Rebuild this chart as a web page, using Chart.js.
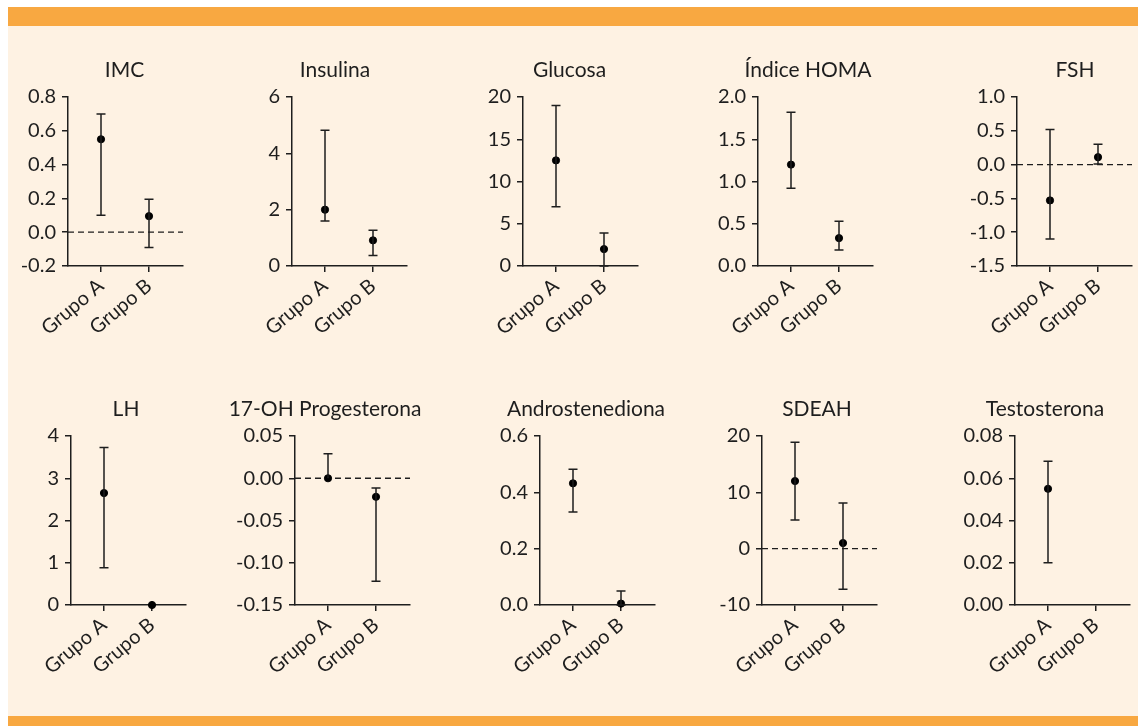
<!DOCTYPE html>
<html>
<head>
<meta charset="utf-8">
<script src="https://cdn.jsdelivr.net/npm/chart.js@4.4.0/dist/chart.umd.min.js"></script>
<style>
  body { margin: 0; background: #ffffff; width: 1138px; height: 726px; overflow: hidden; position: relative; }
  #band-top { position: absolute; left: 8px; top: 7px; width: 1130px; height: 19px; background: #f8a841; }
  #panel { position: absolute; left: 8px; top: 26px; width: 1130px; height: 690px; background: #fef2e3; }
  #band-bottom { position: absolute; left: 8px; top: 716px; width: 1130px; height: 10px; background: #f8a841; }
  canvas { position: absolute; }
</style>
</head>
<body>
<div id="band-top"></div>
<div id="panel"></div>
<div id="band-bottom"></div>

<script>
// datos
const panels = ['IMC', 'Insulina', 'Glucosa', 'Índice HOMA', 'FSH',
                'LH', '17-OH Progesterona', 'Androstenediona', 'SDEAH', 'Testosterona'];
const groups = ['Grupo A', 'Grupo B'];

const meanA = [0.55, 2.0, 12.5, 1.2, -0.53, 2.65, 0.0, 0.432, 12.0, 0.055];
const lowA  = [0.10, 1.6, 7.0, 0.92, -1.10, 0.88, null, 0.33, 5.1, 0.02];
const highA = [0.70, 4.82, 19.0, 1.82, 0.52, 3.73, 0.029, 0.482, 18.9, 0.068];

const meanB = [0.095, 0.91, 2.0, 0.33, 0.11, 0.0, -0.022, 0.005, 1.0, null];
const lowB  = [-0.09, 0.37, 0.0, 0.19, 0.01, null, -0.122, 0.0, -7.2, null];
const highB = [0.195, 1.27, 3.9, 0.53, 0.30, null, -0.0115, 0.05, 8.1, null];

const yMin = [-0.2, 0, 0, 0, -1.5, 0, -0.15, 0, -10, 0];
const yMax = [0.8, 6, 20, 2, 1, 4, 0.05, 0.6, 20, 0.08];
const yStep = [0.2, 2, 5, 0.5, 0.5, 1, 0.05, 0.2, 10, 0.02];
const yDecimals = [1, 0, 0, 1, 1, 0, 2, 1, 0, 2];

// disposición
const axisX = [68, 292, 523, 758, 1017, 71, 295, 540, 762, 1015];
const titleX = [124.5, 335, 569.5, 808, 1075, 126, 325, 586, 817, 1045];
const rowTop = [97, 436];
const titleY = [70, 409];
const plotW = 115, plotH = 169;
const padL = 66, padT = 56, padB = 90;

const ink = '#1e1e1e';
const fontFamily = 'Lato, "Open Sans", sans-serif';

const errorBars = {
  id: 'errorBars',
  afterDatasetsDraw(chart, args, opts) {
    const c = chart.ctx, xs = chart.scales.x, ys = chart.scales.y;
    c.save();
    c.strokeStyle = ink;
    c.lineWidth = 1.5;
    opts.bars.forEach((b, i) => {
      if (b.mean === null) return;
      const px = xs.getPixelForValue(i);
      const top = ys.getPixelForValue(b.high !== null ? b.high : b.mean);
      const bot = ys.getPixelForValue(b.low !== null ? b.low : b.mean);
      c.beginPath();
      c.moveTo(px, top);
      c.lineTo(px, bot);
      if (b.high !== null) { c.moveTo(px - 4.5, top); c.lineTo(px + 4.5, top); }
      if (b.low !== null) { c.moveTo(px - 4.5, bot); c.lineTo(px + 4.5, bot); }
      c.stroke();
    });
    c.restore();
  }
};

const zeroLine = {
  id: 'zeroLine',
  beforeDatasetsDraw(chart) {
    const ys = chart.scales.y, a = chart.chartArea;
    if (!(ys.min < 0 && ys.max > 0)) return;
    const y = ys.getPixelForValue(0);
    const c = chart.ctx;
    c.save();
    c.strokeStyle = ink;
    c.lineWidth = 1.3;
    c.setLineDash([6, 4]);
    c.beginPath();
    c.moveTo(a.left, y);
    c.lineTo(a.right, y);
    c.stroke();
    c.restore();
  }
};

const panelTitle = {
  id: 'panelTitle',
  afterDraw(chart, args, opts) {
    const c = chart.ctx;
    c.save();
    c.fillStyle = ink;
    c.font = '21px ' + fontFamily;
    c.textAlign = 'center';
    c.textBaseline = 'middle';
    c.fillText(opts.text, opts.x, opts.y);
    c.restore();
  }
};

panels.forEach((name, i) => {
  const row = i < 5 ? 0 : 1;
  const padR = i === 4 ? 6 : 60;
  const cv = document.createElement('canvas');
  const left = axisX[i] - padL, top = rowTop[row] - padT;
  const w = padL + plotW + padR, h = padT + plotH + padB;
  cv.style.left = left + 'px';
  cv.style.top = top + 'px';
  cv.style.width = w + 'px';
  cv.style.height = h + 'px';
  cv.width = w;
  cv.height = h;
  document.body.appendChild(cv);

  const pts = [];
  if (meanA[i] !== null) pts.push({ x: 0, y: meanA[i] });
  if (meanB[i] !== null) pts.push({ x: 1, y: meanB[i] });

  new Chart(cv, {
    type: 'scatter',
    data: {
      datasets: [{
        data: pts,
        backgroundColor: '#000000',
        borderColor: '#000000',
        pointRadius: 3.6,
        pointHoverRadius: 3.6,
        clip: false
      }]
    },
    options: {
      responsive: false,
      animation: false,
      events: [],
      layout: { padding: { left: 0, top: padT, right: padR, bottom: 0 } },
      plugins: {
        legend: { display: false },
        tooltip: { enabled: false },
        errorBars: {
          bars: [
            { mean: meanA[i], low: lowA[i], high: highA[i] },
            { mean: meanB[i], low: lowB[i], high: highB[i] }
          ]
        },
        panelTitle: { text: name, x: titleX[i] - left, y: titleY[row] - top }
      },
      scales: {
        x: {
          type: 'linear',
          min: -33 / 48,
          max: (plotW - 33) / 48,
          afterFit(s) { s.height = padB; },
          grid: { drawOnChartArea: false, drawTicks: true, tickLength: 6, tickColor: ink, lineWidth: 1.5 },
          border: { display: true, color: ink, width: 1.5 },
          ticks: {
            stepSize: 1,
            includeBounds: false,
            autoSkip: false,
            minRotation: 40,
            maxRotation: 40,
            padding: 2,
            color: ink,
            font: { family: fontFamily, size: 20 },
            callback: v => (v === 0 || v === 1) ? groups[v] : ''
          }
        },
        y: {
          min: yMin[i],
          max: yMax[i],
          afterFit(s) { s.width = padL; },
          grid: { drawOnChartArea: false, drawTicks: true, tickLength: 6, tickColor: ink, lineWidth: 1.5 },
          border: { display: true, color: ink, width: 1.5 },
          ticks: {
            stepSize: yStep[i],
            padding: 6,
            color: ink,
            font: { family: fontFamily, size: 20 },
            callback: v => v.toFixed(yDecimals[i])
          }
        }
      }
    },
    plugins: [zeroLine, errorBars, panelTitle]
  });
});
</script>
</body>
</html>
